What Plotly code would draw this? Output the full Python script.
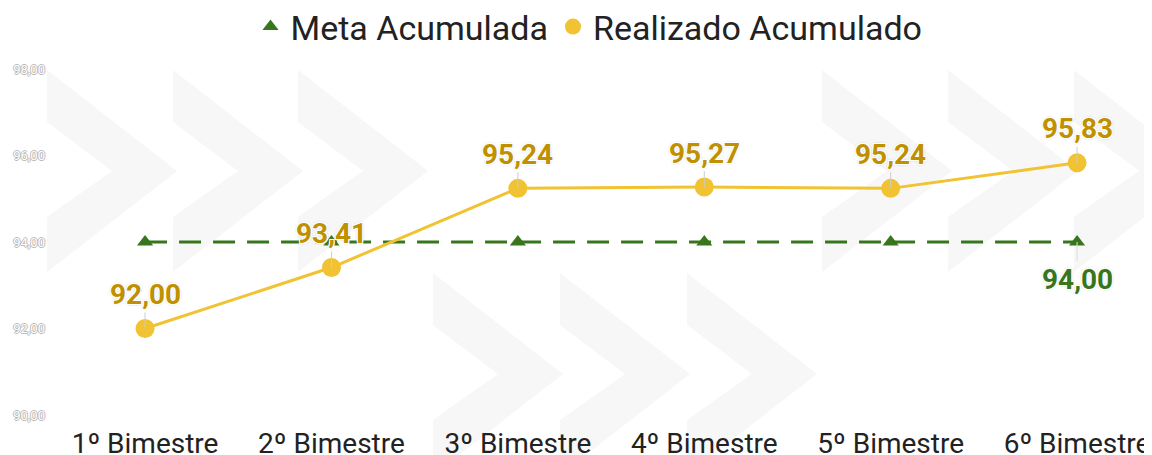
import plotly.graph_objects as go

bimestres = ["1º Bimestre", "2º Bimestre", "3º Bimestre", "4º Bimestre", "5º Bimestre", "6º Bimestre"]
meta = [94.00, 94.00, 94.00, 94.00, 94.00, 94.00]
realizado = [92.00, 93.41, 95.24, 95.27, 95.24, 95.83]
y_ticks = [90, 92, 94, 96, 98]

GREEN = "#38761D"
YELLOW = "#F1C232"
GOLD = "#BF9000"

# page has an 8px body margin, so the figure is a bit smaller than the window
OFF = 8
W, H = 1152 - OFF, 455 - OFF
L, R, T, B = 42, 0, 61, 40


def br(v):
    return f"{v:.2f}".replace(".", ",")


def px2paper(px, py):
    px, py = px - OFF, py - OFF
    return (px - L) / (W - L - R), (H - B - py) / (H - T - B)


def chevron(left, top):
    pts = [(left, top), (left + 130, top + 101), (left, top + 202),
           (left, top + 147), (left + 65, top + 101), (left, top + 52)]
    pts = [px2paper(a, b) for a, b in pts]
    return "M " + " L ".join(f"{a:.4f},{b:.4f}" for a, b in pts) + " Z"


fig = go.Figure()

# data traces (legend handled by marker-only dummies)
fig.add_trace(go.Scatter(x=bimestres, y=meta, mode="lines+markers", showlegend=False,
                         line=dict(color=GREEN, width=3, dash="22px,12px"),
                         marker=dict(symbol="triangle-up", size=14, color=GREEN)))
fig.add_trace(go.Scatter(x=bimestres, y=realizado, mode="lines+markers", showlegend=False,
                         line=dict(color=YELLOW, width=3),
                         marker=dict(symbol="circle", size=19, color=YELLOW)))
fig.add_trace(go.Scatter(x=[None], y=[None], mode="markers", name="Meta Acumulada",
                         marker=dict(symbol="triangle-up", size=14, color=GREEN)))
fig.add_trace(go.Scatter(x=[None], y=[None], mode="markers", name="Realizado Acumulado",
                         marker=dict(symbol="circle", size=19, color=YELLOW)))

halo = "-1px -1px 0 #fff, 1px -1px 0 #fff, -1px 1px 0 #fff, 1px 1px 0 #fff, 0 0 3px #aaa"

for cat, v in zip(bimestres, realizado):
    fig.add_annotation(x=cat, y=v, text=br(v), showarrow=True, arrowhead=0,
                       arrowwidth=1, arrowcolor="#cccccc", ax=0, ay=-34,
                       font=dict(family="Roboto", size=28, color=GOLD, weight="bold", shadow=halo))

fig.add_annotation(x=bimestres[-1], y=meta[-1], text=br(meta[-1]), showarrow=True, arrowhead=0,
                   arrowwidth=1, arrowcolor="#dddddd", ax=0, ay=37,
                   font=dict(family="Roboto", size=28, color=GREEN, weight="bold", shadow=halo))

shapes = []
for left in [47, 173, 298, 822, 948, 1074]:
    shapes.append(dict(type="path", path=chevron(left, 70), xref="paper", yref="paper",
                       fillcolor="#f7f7f7", line=dict(width=0), layer="below"))
for left in [433, 560, 687]:
    shapes.append(dict(type="path", path=chevron(left, 273), xref="paper", yref="paper",
                       fillcolor="#f7f7f7", line=dict(width=0), layer="below"))

fig.update_layout(
    width=W, height=H,
    margin=dict(l=L, r=R, t=T, b=B),
    plot_bgcolor="white", paper_bgcolor="white",
    separators=",.",
    font=dict(family="Roboto", color="#222222"),
    shapes=shapes,
    legend=dict(orientation="h", x=0.5 - 12 / (W - L - R), xanchor="center", xref="paper",
                y=1 - 19 / H, yref="container", yanchor="middle",
                font=dict(size=34, color="#222222"), itemwidth=30, tracegroupgap=0),
    xaxis=dict(range=[-0.51, 5.402], showgrid=False, zeroline=False, showline=False,
               automargin=False,
               tickfont=dict(size=28, color="#222222"), ticks="", ticklabelstandoff=9),
    yaxis=dict(range=[90, 98], tickvals=y_ticks, tickformat=".2f", showgrid=False,
               zeroline=False, showline=False, ticklabelstandoff=4, automargin=False,
               tickfont=dict(size=13, color="#ffffff",
                             shadow="-1px 0 #bbb, 1px 0 #bbb, 0 -1px #bbb, 0 1px #bbb")),
)

fig.write_html("out.html")
